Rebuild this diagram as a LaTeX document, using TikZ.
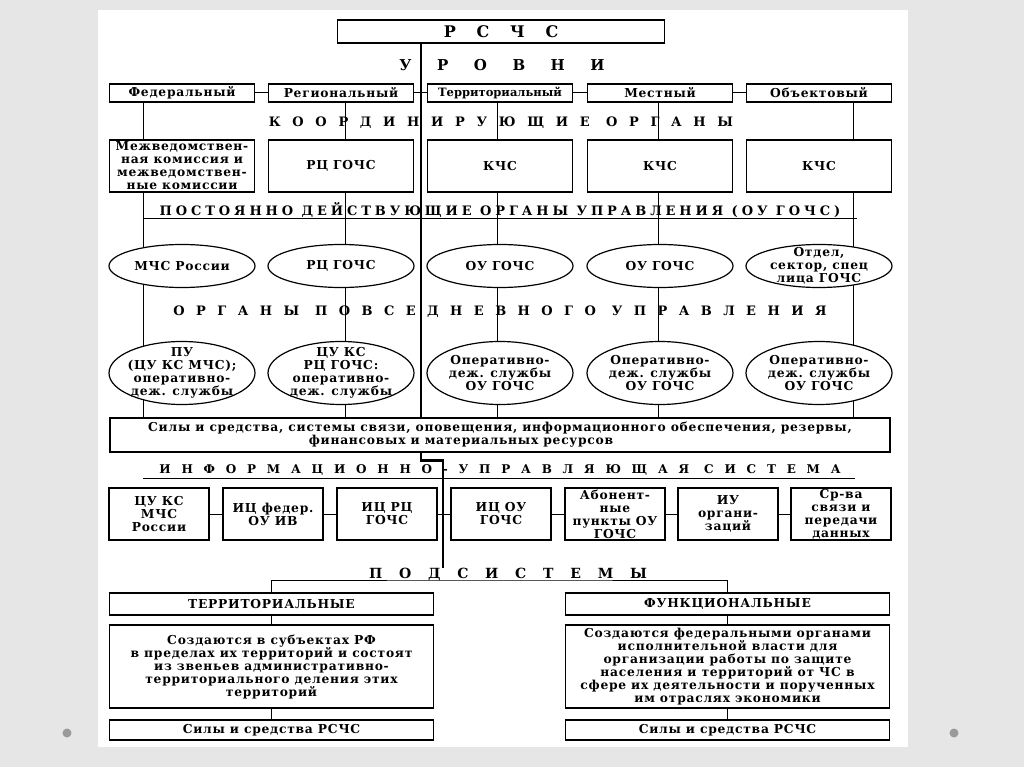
\documentclass[tikz,border=0pt]{standalone}
\usepackage{fontspec}
\setmainfont{DejaVu Serif}
\usetikzlibrary{positioning, shapes.geometric, backgrounds}
\definecolor{slideGray}{HTML}{E6E6E6}
\definecolor{dotGray}{HTML}{9A9A9A}
\newcommand{\scan}{\bfseries\fontsize{12.3}{13}\selectfont\addfontfeature{LetterSpace=6}}
\newcommand{\headsize}{\bfseries\fontsize{13}{14}\selectfont}
\newcommand{\spaced}[2]{{\addfontfeature{LetterSpace=#1}#2}}

\begin{document}
\begin{tikzpicture}[x=1pt, y=-1pt,
    box/.style={draw, line width=1.2pt, fill=white, align=center, inner sep=1pt, font=\scan},
    lvl/.style={box, minimum width=145pt, minimum height=18pt},
    orgbox/.style={box, minimum width=145pt, minimum height=52pt},
    oval/.style={ellipse, draw, line width=1.2pt, fill=white, align=center, inner xsep=-14pt, inner ysep=-8pt, font=\scan, minimum width=146pt},
    ius/.style={box, minimum width=100pt, minimum height=52pt},
    sub/.style={box, minimum width=324pt},
    heading/.style={inner sep=0pt, font=\headsize},
    link/.style={line width=1pt},
    trunk/.style={line width=2.4pt}]
  \useasboundingbox (0,0) rectangle (1024,767);
  \begin{scope}[on background layer]
    \fill[slideGray] (0,0) rectangle (1024,767);
    \fill[white] (98,10) rectangle (908,747);
  \end{scope}
  \fill[dotGray] (67,733) circle (4.5);
  \fill[dotGray] (954,733) circle (4.5);

  % top
  \node[box, minimum width=327pt, minimum height=23pt, font=\bfseries\fontsize{16}{17}\selectfont] (rschs) at (501,31.5) {\spaced{130}{РСЧС}};
  \node[heading, font=\bfseries\fontsize{15}{16}\selectfont] (urovni) at (502,65) {\spaced{170}{УРОВНИ}};

  % levels
  \node[lvl] (fed) at (182,93) {Федеральный};
  \node[lvl] (reg) at (341,93) {Региональный};
  \node[lvl, font=\bfseries\fontsize{11.5}{13}\selectfont] (ter) at (500,93) {Территориальный};
  \node[lvl] (loc) at (660,93) {Местный};
  \node[lvl] (obj) at (819,93) {Объектовый};

  \node[heading] (koord) at (501,123) {\spaced{90}{КООРДИНИРУЮЩИЕ ОРГАНЫ}};
  \node[orgbox] (mvk) at (182,166) {Межведомствен-\\ная комиссия и\\межведомствен-\\ные комиссии};
  \node[orgbox] (rc1) at (341,166) {РЦ ГОЧС};
  \node[orgbox] (kchs1) at (500,166) {КЧС};
  \node[orgbox] (kchs2) at (660,166) {КЧС};
  \node[orgbox] (kchs3) at (819,166) {КЧС};

  \node[heading] (postoyan) at (500,210) {\spaced{30}{ПОСТОЯННО ДЕЙСТВУЮЩИЕ ОРГАНЫ УПРАВЛЕНИЯ (ОУ ГОЧС)}};
  \node[oval, minimum height=43pt] (mchs) at (182,266) {МЧС России};
  \node[oval, minimum height=43pt] (rc2) at (341,266) {РЦ ГОЧС};
  \node[oval, minimum height=43pt] (ou1) at (500,266) {ОУ ГОЧС};
  \node[oval, minimum height=43pt] (ou2) at (660,266) {ОУ ГОЧС};
  \node[oval, minimum height=43pt] (otdel) at (819,266) {Отдел,\\сектор, спец\\лица ГОЧС};

  \node[heading] (povsed) at (500,312) {\spaced{88}{ОРГАНЫ ПОВСЕДНЕВНОГО УПРАВЛЕНИЯ}};
  \node[oval, minimum height=63pt] (pu) at (182,373) {ПУ\\(ЦУ КС МЧС);\\оперативно-\\деж. службы};
  \node[oval, minimum height=63pt] (cuks) at (341,373) {ЦУ КС\\РЦ ГОЧС:\\оперативно-\\деж. службы};
  \node[oval, minimum height=63pt] (od1) at (500,373) {Оперативно-\\деж. службы\\ОУ ГОЧС};
  \node[oval, minimum height=63pt] (od2) at (660,373) {Оперативно-\\деж. службы\\ОУ ГОЧС};
  \node[oval, minimum height=63pt] (od3) at (819,373) {Оперативно-\\деж. службы\\ОУ ГОЧС};

  \node[box, minimum width=780pt, minimum height=34pt] (sily) at (500,435) {Силы и средства, системы связи, оповещения, информационного обеспечения, резервы,\\финансовых и материальных ресурсов\hspace*{78pt}};

  % ИУС
  \node[heading, font=\bfseries\fontsize{12}{13}\selectfont] (infus) at (500,470) {\spaced{90}{ИНФОРМАЦИОННО-УПРАВЛЯЮЩАЯ СИСТЕМА}};
  \node[ius] (cuks2) at (159,514) {ЦУ КС\\МЧС\\России};
  \node[ius] (icfed) at (273,514) {ИЦ федер.\\ОУ ИВ};
  \node[ius] (icrc) at (387,514) {ИЦ РЦ\\ГОЧС};
  \node[ius] (icou) at (501,514) {ИЦ ОУ\\ГОЧС};
  \node[ius] (abon) at (615,514) {Абонент-\\ные\\пункты ОУ\\ГОЧС};
  \node[ius] (iuorg) at (728,514) {ИУ\\органи-\\заций};
  \node[ius] (srv) at (841,514) {Ср-ва\\связи и\\передачи\\данных};

  % subsystems
  \node[heading, font=\bfseries\fontsize{14}{15}\selectfont] (podsis) at (508,574) {\spaced{120}{ПОДСИСТЕМЫ}};
  \node[sub, minimum height=22pt] (terh) at (271.5,604) {ТЕРРИТОРИАЛЬНЫЕ};
  \node[sub, minimum height=83pt] (terd) at (271.5,666.5) {Создаются в субъектах РФ\\в пределах их территорий и состоят\\из звеньев административно-\\территориального деления этих\\территорий};
  \node[sub, minimum height=20pt] (ters) at (271.5,730) {Силы и средства РСЧС};
  \node[sub, minimum height=22pt] (funh) at (727.5,604) {ФУНКЦИОНАЛЬНЫЕ};
  \node[sub, minimum height=83pt] (fund) at (727.5,666.5) {Создаются федеральными органами\\исполнительной власти для\\организации работы по защите\\населения и территорий от ЧС в\\сфере их деятельности и порученных\\им отраслях экономики};
  \node[sub, minimum height=20pt] (funs) at (727.5,730) {Силы и средства РСЧС};

  % connectors
  \coordinate (tr) at (421,0);
  \coordinate (tr2) at (443,0);
  \coordinate (c1) at (143,0);
  \coordinate (c2) at (345,0);
  \coordinate (c3) at (497,0);
  \coordinate (c4) at (658,0);
  \coordinate (c5) at (853,0);
  \coordinate (bus1) at (500,219);
  \coordinate (bus2) at (500,478);
  \coordinate (br) at (500,580);
  \begin{scope}[on background layer]
    \draw[trunk] (rschs.south -| tr) -- (sily.north -| tr);
    \draw[link] (fed.south -| c1) -- (sily.north -| c1);
    \draw[link] (reg.south -| c2) -- (sily.north -| c2);
    \draw[link] (ter.south -| c3) -- (sily.north -| c3);
    \draw[link] (loc.south -| c4) -- (sily.north -| c4);
    \draw[link] (obj.south -| c5) -- (sily.north -| c5);
  \end{scope}
  \draw[link] (bus1 -| c1) -- ([xshift=4pt]bus1 -| c5);
  \draw[link] (bus2 -| c1) -- ([xshift=2pt]bus2 -| c5);
  \draw[link] (fed) -- (reg);
  \draw[link] (reg) -- (ter);
  \draw[link] (ter) -- (loc);
  \draw[link] (loc) -- (obj);
  \draw[trunk] (sily.south -| tr) -- ++(0,8) -| (podsis.north -| tr2);
  \draw[link] (cuks2) -- (icfed);
  \draw[link] (icfed) -- (icrc);
  \draw[link] (icrc) -- (icou);
  \draw[link] (icou) -- (abon);
  \draw[link] (abon) -- (iuorg);
  \draw[link] (iuorg) -- (srv);
  \draw[link] (terh.north) |- (br) -| (funh.north);
  \draw[link] (terh) -- (terd);
  \draw[link] (terd) -- (ters);
  \draw[link] (funh) -- (fund);
  \draw[link] (fund) -- (funs);
\end{tikzpicture}
\end{document}
